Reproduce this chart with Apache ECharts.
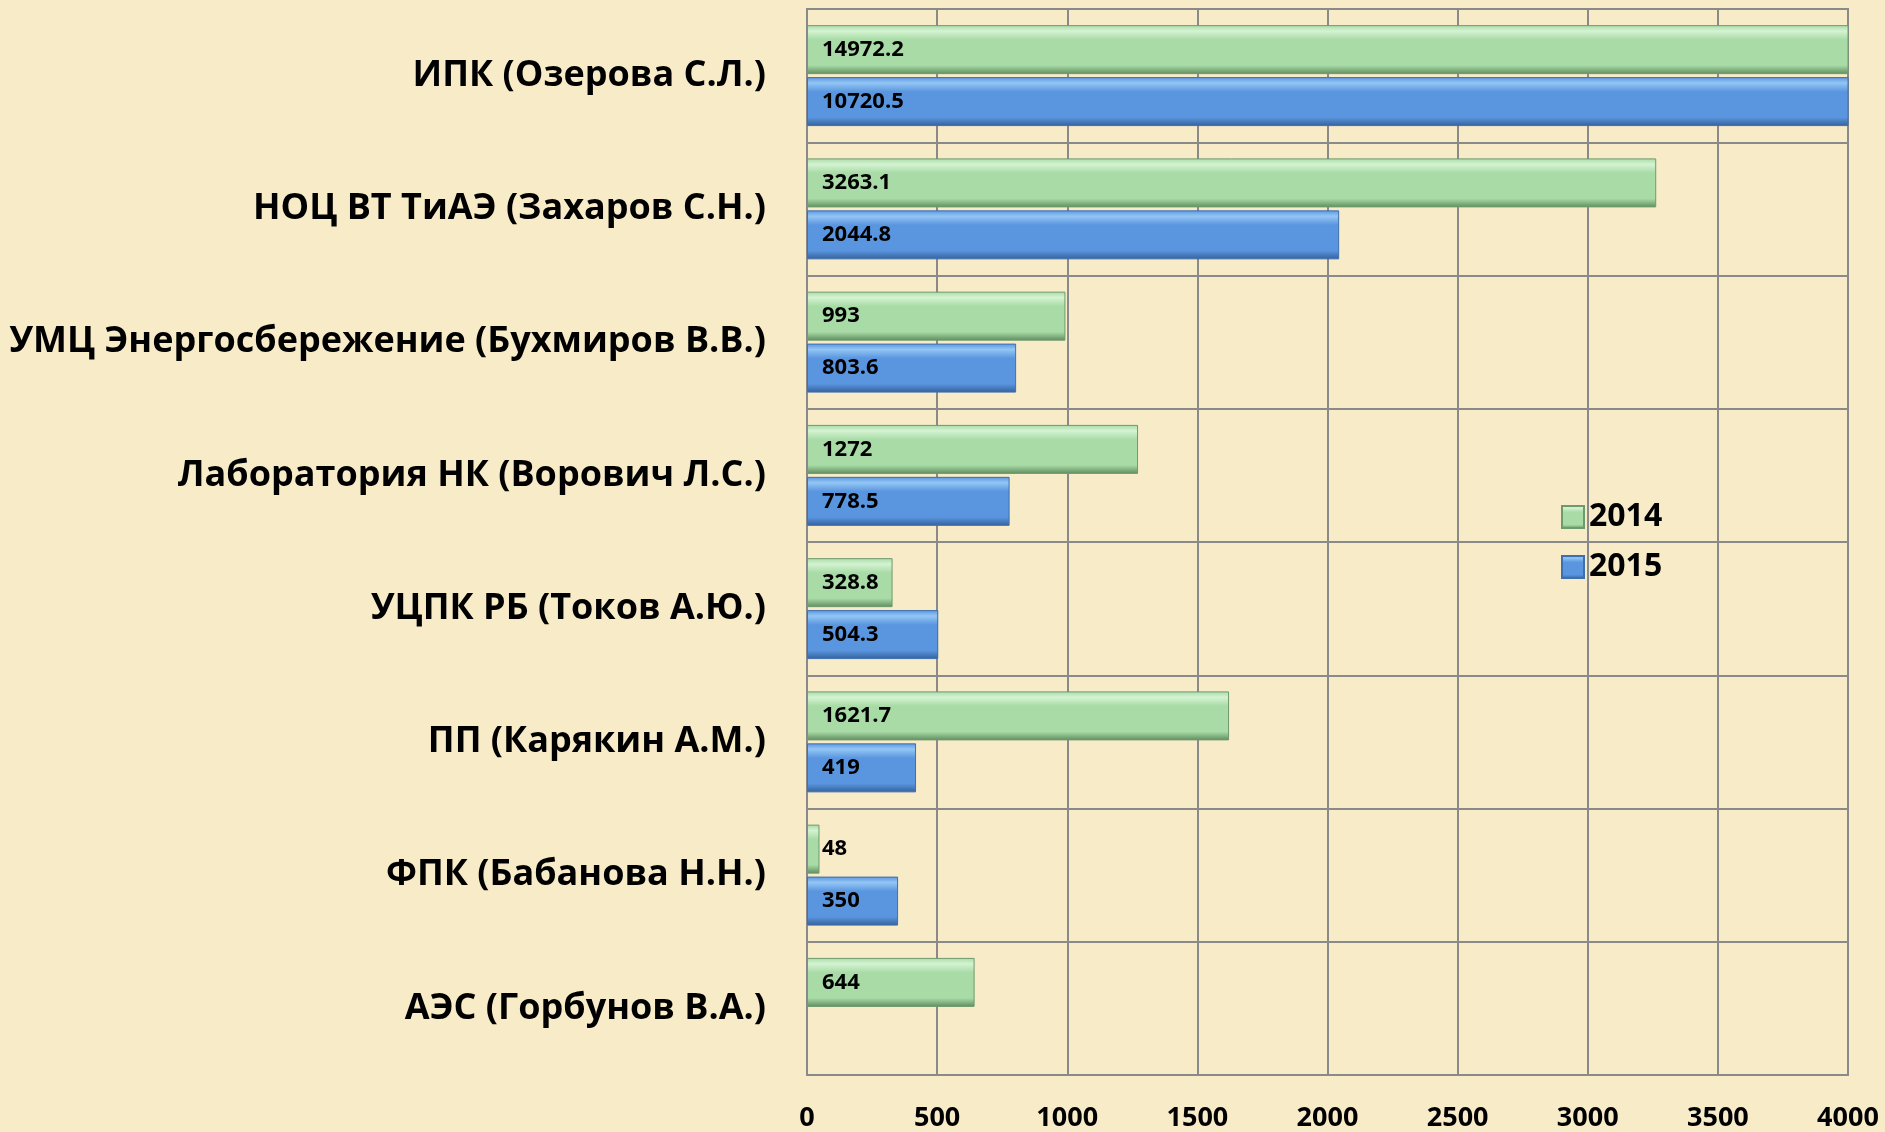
<!DOCTYPE html>
<html>
<head>
<meta charset="utf-8">
<title>chart</title>
<script src="https://cdn.jsdelivr.net/npm/echarts@6/dist/echarts.min.js"></script>
<style>
  html, body { margin: 0; padding: 0; }
  #chart { width: 1885px; height: 1132px; background: #f8ebc8; }
</style>
</head>
<body>
<div id="chart"></div>
<script>
// categories top to bottom
var categories = [
  "ИПК (Озерова С.Л.)",
  "НОЦ ВТ ТиАЭ (Захаров С.Н.)",
  "УМЦ Энергосбережение (Бухмиров В.В.)",
  "Лаборатория НК (Ворович Л.С.)",
  "УЦПК РБ (Токов А.Ю.)",
  "ПП (Карякин А.М.)",
  "ФПК (Бабанова Н.Н.)",
  "АЭС (Горбунов В.А.)"
];
var values2014 = [14972.2, 3263.1, 993, 1272, 328.8, 1621.7, 48, 644];
var values2015 = [10720.5, 2044.8, 803.6, 778.5, 504.3, 419, 350, null];
var xTicks = [0, 500, 1000, 1500, 2000, 2500, 3000, 3500, 4000];

var FONT = "'Open Sans', 'Noto Sans', sans-serif";

// top light strip, bottom dark strip - rough excel bevel look
function bevel(light, main, dark) {
  return new echarts.graphic.LinearGradient(0, 0, 0, 1, [
    { offset: 0, color: main },
    { offset: 0.12, color: light },
    { offset: 0.3, color: main },
    { offset: 0.82, color: main },
    { offset: 1, color: dark }
  ]);
}

var chart = echarts.init(document.getElementById("chart"));
chart.setOption({
  backgroundColor: "#f8ebc8",
  animation: false,
  textStyle: { fontFamily: FONT },
  grid: {
    left: 807,
    top: 9,
    right: 37,
    bottom: 56,
    show: true,
    borderColor: "#8a8a8a",
    borderWidth: 2
  },
  legend: {
    orient: "vertical",
    left: 1556,
    top: 496,
    itemWidth: 22,
    itemHeight: 22,
    itemGap: 18,
    icon: "rect",
    data: ["2014", "2015"],
    textStyle: {
      fontFamily: FONT,
      fontSize: 32,
      fontWeight: "bold",
      color: "#000",
      lineHeight: 32
    }
  },
  xAxis: {
    type: "value",
    min: 0,
    max: 4000,
    interval: 500,
    axisLine: { show: false },
    axisTick: { show: false },
    splitLine: { show: true, lineStyle: { color: "#8a8a8a", width: 2 } },
    axisLabel: {
      margin: 30,
      fontFamily: FONT,
      fontSize: 27,
      fontWeight: "bold",
      color: "#000",
      formatter: function (v) { return xTicks.indexOf(v) >= 0 ? String(v) : ""; }
    }
  },
  yAxis: {
    type: "category",
    inverse: true,
    data: categories,
    axisLine: { show: false },
    axisTick: { show: false },
    splitLine: { show: true, lineStyle: { color: "#8a8a8a", width: 2 } },
    axisLabel: {
      margin: 41,
      fontFamily: FONT,
      fontSize: 36,
      fontWeight: "bold",
      color: "#000"
    }
  },
  series: [
    {
      name: "2014",
      type: "bar",
      data: values2014,
      barWidth: 49,
      barGap: "6%",
      clip: true,
      itemStyle: {
        color: bevel("#d4f3d2", "#a8dba6", "#5f8c5e"),
        borderColor: "#6f9a6e",
        borderWidth: 1
      },
      label: {
        show: true,
        position: "insideLeft",
        distance: 15,
        fontFamily: FONT,
        fontSize: 22,
        fontWeight: "bold",
        color: "#000"
      }
    },
    {
      name: "2015",
      type: "bar",
      data: values2015,
      barWidth: 49,
      barGap: "6%",
      clip: true,
      itemStyle: {
        color: bevel("#93c6f5", "#5a96df", "#34609c"),
        borderColor: "#3f6fae",
        borderWidth: 1
      },
      label: {
        show: true,
        position: "insideLeft",
        distance: 15,
        fontFamily: FONT,
        fontSize: 22,
        fontWeight: "bold",
        color: "#000"
      }
    }
  ]
});
</script>
</body>
</html>
